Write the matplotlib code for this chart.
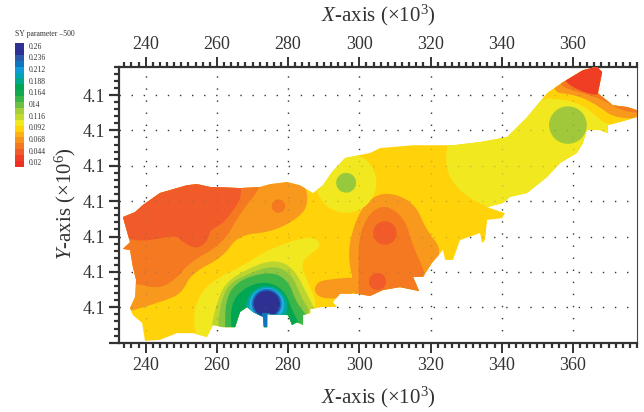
import matplotlib
matplotlib.use("Agg")
import matplotlib.pyplot as plt
from matplotlib.patches import Circle, Polygon
from matplotlib.ticker import FuncFormatter, MultipleLocator
import numpy as np

plt.rcParams["font.family"] = ["Liberation Serif", "DejaVu Serif"]
plt.rcParams["mathtext.fontset"] = "custom"
plt.rcParams["mathtext.rm"] = "Liberation Serif"
plt.rcParams["mathtext.it"] = "Liberation Serif:italic"

# study area outline, x and y in thousands of metres
outline_x = [233.6, 237.0, 239.2, 244.0, 251.6, 254.4, 258.1, 266.5, 272.1, 274.9, 279.7, 283.3, 287.0, 289.8,
             292.3, 296.0, 303.0, 305.8, 315.1, 326.3, 333.9, 341.5, 347.1, 352.7, 357.2, 362.8, 366.7, 368.2,
             367.0, 371.2, 375.2, 378.0, 378.0, 374.0, 369.8, 369.8, 367.6, 363.9, 362.8, 361.1, 356.4, 352.7,
             347.1, 342.3, 340.4, 335.9, 340.9, 340.1, 335.9, 335.3, 334.5, 333.9, 328.3, 326.3, 324.1, 323.5,
             320.4, 317.9, 315.1, 316.8, 311.4, 306.7, 303.0, 299.6, 294.6, 292.6, 293.7, 289.8, 286.2, 286.2,
             284.2, 284.2, 282.5, 281.1, 280.0, 274.1, 274.1, 273.2, 273.0, 270.1, 268.5, 266.5, 265.1, 261.7,
             258.9, 257.2, 253.3, 248.8, 244.0, 239.8, 239.0, 236.4, 235.6, 237.0, 237.3, 236.4, 235.6, 233.6,
             235.6]
outline_y = [4095.5, 4096.9, 4098.9, 4102.3, 4104.5, 4104.8, 4104.0, 4103.7, 4104.0, 4104.8, 4105.4, 4104.5,
             4102.3, 4104.5, 4108.2, 4112.2, 4113.6, 4115.0, 4115.8, 4115.8, 4116.7, 4118.1, 4123.7, 4130.5,
             4133.6, 4137.0, 4138.0, 4136.5, 4130.5, 4127.1, 4126.6, 4125.7, 4123.8, 4122.6, 4121.5, 4119.2,
             4120.1, 4120.1, 4116.4, 4113.6, 4110.8, 4106.8, 4102.3, 4101.2, 4099.5, 4098.3, 4096.6, 4095.2,
             4094.7, 4089.0, 4088.2, 4091.0, 4089.0, 4083.4, 4083.4, 4086.2, 4082.5, 4078.6, 4078.6, 4074.6,
             4075.7, 4074.9, 4073.2, 4073.8, 4073.8, 4071.5, 4070.1, 4070.1, 4069.5, 4068.4, 4067.8, 4065.0,
             4065.8, 4065.0, 4067.8, 4068.1, 4064.4, 4064.4, 4067.3, 4068.7, 4070.1, 4068.7, 4064.4, 4064.4,
             4065.0, 4061.6, 4062.7, 4062.7, 4060.8, 4060.5, 4065.6, 4067.8, 4069.8, 4072.9, 4077.7, 4081.4,
             4086.2, 4086.5, 4088.4]

# contour bands, painted from the outside in
west_light_x = [232.8, 237.0, 245.9, 250.1, 252.9, 261.8, 266.0, 275.9, 283.4, 285.7, 284.8, 279.6, 272.1, 232.8]
west_light_y = [4068.3, 4069.3, 4072.1, 4074.0, 4079.6, 4084.3, 4090.4, 4091.4, 4095.6, 4099.4, 4105.0, 4108.0,
                4108.0, 4108.0]
west_mid_x = [228.0, 237.0, 244.0, 249.2, 252.0, 261.8, 266.5, 272.6, 272.1, 228.0]
west_mid_y = [4076.8, 4076.8, 4075.1, 4078.7, 4082.4, 4088.1, 4096.6, 4104.1, 4109.0, 4109.0]
west_dark_x = [228.0, 266.5, 266.9, 266.0, 261.8, 258.1, 257.3, 254.3, 250.1, 248.7, 239.4, 234.7, 228.0]
west_dark_y = [4109.0, 4109.0, 4102.2, 4099.4, 4093.7, 4091.9, 4088.6, 4086.4, 4088.6, 4090.4, 4088.6, 4089.5,
               4089.5]
lobe_x = [291.8, 288.5, 287.1, 289.0, 295.5, 299.8, 299.8]
lobe_y = [4077.9, 4077.3, 4074.9, 4072.5, 4072.5, 4074.9, 4078.7]
south_yellow_x = [288.6, 285.2, 274.9, 267.5, 258.1, 253.9, 253.4, 257.2, 267.5, 286.2, 288.1, 285.7, 283.4, 286.6,
                  289.0]
south_yellow_y = [4089.0, 4090.0, 4086.6, 4081.9, 4077.2, 4071.5, 4063.0, 4059.0, 4062.0, 4066.0, 4071.1, 4076.8,
                  4082.4, 4085.3, 4087.0]
green1_x = [258.0, 259.6, 262.4, 269.3, 275.9, 281.4, 285.2, 288.4, 272.0]
green1_y = [4062.0, 4070.2, 4077.2, 4081.2, 4083.5, 4081.4, 4074.0, 4067.6, 4060.0]
green2_x = [260.0, 261.0, 263.3, 269.3, 275.9, 281.0, 283.8, 287.0, 272.0]
green2_y = [4062.0, 4071.1, 4076.7, 4079.7, 4081.9, 4079.5, 4072.5, 4067.6, 4060.0]
green3_x = [262.3, 262.4, 266.1, 274.9, 280.0, 282.4, 285.6, 285.6, 262.3]
green3_y = [4062.5, 4072.5, 4077.7, 4080.2, 4077.7, 4071.1, 4067.4, 4062.0, 4062.0]
green4_x = [264.2, 263.8, 268.0, 274.0, 279.1, 281.4, 285.2, 264.2]
green4_y = [4062.0, 4071.1, 4075.8, 4077.4, 4074.8, 4068.3, 4062.0, 4060.0]
tail_x = [272.6, 274.9, 274.9, 272.6]
tail_y = [4068.3, 4068.3, 4063.6, 4063.6]
east_outer_x = [298.6, 296.6, 299.0, 303.0, 308.6, 315.6, 318.8, 323.4, 320.0, 318.0, 298.6]
east_outer_y = [4075.8, 4085.3, 4095.0, 4101.0, 4102.6, 4099.4, 4091.9, 4086.2, 4079.6, 4071.0, 4071.0]
east_inner_x = [299.8, 299.8, 303.0, 307.7, 312.8, 315.1, 319.0, 319.0, 299.8]
east_inner_y = [4078.7, 4090.0, 4097.0, 4099.0, 4095.0, 4087.1, 4078.7, 4071.0, 4071.0]
arm_x = [325.0, 324.1, 325.9, 330.2, 335.8, 341.4, 362.9, 381.0, 381.0, 352.6, 341.4, 331.1]
arm_y = [4118.5, 4110.7, 4105.5, 4101.3, 4098.4, 4096.2, 4103.0, 4120.0, 4130.5, 4130.5, 4122.0, 4119.0]
tip1_x = [351.0, 359.2, 364.8, 369.5, 381.0, 381.0, 359.2]
tip1_y = [4129.0, 4128.6, 4125.8, 4121.2, 4121.0, 4141.0, 4141.0]
tip2_x = [353.0, 361.1, 366.7, 371.8, 381.0, 381.0, 359.2]
tip2_y = [4130.9, 4130.0, 4127.2, 4123.4, 4123.4, 4141.0, 4141.0]
tip3_x = [355.0, 362.9, 368.5, 374.2, 381.0, 381.0, 359.2]
tip3_y = [4132.8, 4130.5, 4128.6, 4125.3, 4124.8, 4141.0, 4141.0]
tip4_x = [356.5, 362.9, 368.6, 370.0, 359.2]
tip4_y = [4134.4, 4130.6, 4129.8, 4141.0, 4141.0]

# round blobs around single wells: x, y, radius
blob_x = [277.3, 296.3, 296.3, 307.2, 305.1, 358.6, 274.0, 274.0, 274.0, 274.0]
blob_y = [4098.6, 4105.2, 4105.2, 4091.0, 4077.3, 4121.5, 4070.2, 4070.6, 4071.0, 4071.0]
blob_r = [1.9, 8.5, 2.8, 3.3, 2.4, 5.3, 5.8, 4.9, 4.2, 3.7]

# legend
legend_values = ["0.26", "0.236", "0.212", "0.188", "0.164", "014", "0.116", "0.092", "0.068", "0.044", "0.02"]
legend_colors = ["#EE2F24", "#EF3E23", "#F15A29", "#F47920", "#F7941D", "#FBB116", "#FFD20A", "#F2E81F", "#C5D92D",
                 "#A6CE39", "#6CBE45", "#39B54A", "#12A94F", "#00A651", "#00A88C", "#00A4B4", "#0F9BD7", "#0F75BC",
                 "#2B5BA8", "#2E3192", "#2E3192"]

x_ticks = np.arange(240, 361, 20)
y_ticks = np.arange(4060, 4131, 10)


def rounded(xs, ys, passes=3):
    # corner cutting, the contours in the picture have no sharp corners
    pts = np.column_stack([xs, ys])
    for _ in range(passes):
        nxt = np.roll(pts, -1, axis=0)
        pts = np.column_stack([0.75 * pts + 0.25 * nxt, 0.25 * pts + 0.75 * nxt]).reshape(-1, 2)
    return pts[:, 0], pts[:, 1]


fig = plt.figure(figsize=(6.44, 4.12), dpi=100)
ax = fig.add_axes([119 / 644, 1 - 342.7 / 412, (637 - 119) / 644, (342.7 - 66.7) / 412])
ax.set_xlim(232.5, 378.0)
ax.set_ylim(4060, 4138)

# dotted grid under the map
ax.set_axisbelow(True)
ax.grid(True, which="major", color="#333333", lw=1.0, ls=(0, (1, 7.7)))

area = Polygon(np.column_stack([outline_x, outline_y]), closed=True, fc="#FFD20A", ec="none", zorder=2)
ax.add_patch(area)

bands = [
    (west_light_x, west_light_y, "#F8981D"),
    (west_mid_x, west_mid_y, "#F47920"),
    (west_dark_x, west_dark_y, "#F15A29"),
    (lobe_x, lobe_y, "#F8981D"),
    (east_outer_x, east_outer_y, "#F8981D"),
    (east_inner_x, east_inner_y, "#F47920"),
    (arm_x, arm_y, "#F2E81F"),
    (tip1_x, tip1_y, "#FFD20A"),
    (tip2_x, tip2_y, "#F8981D"),
    (tip3_x, tip3_y, "#F47920"),
    (tip4_x, tip4_y, "#EF3E23"),
]
for xs, ys, color in bands:
    band = ax.fill(*rounded(xs, ys), color=color, lw=0, zorder=3)[0]
    band.set_clip_path(area)

south_bands = [
    (south_yellow_x, south_yellow_y, "#F2E81F"),
    (green1_x, green1_y, "#BBD531"),
    (green2_x, green2_y, "#8DC63F"),
    (green3_x, green3_y, "#39B54A"),
    (green4_x, green4_y, "#00A651"),
]
for xs, ys, color in south_bands:
    band = ax.fill(*rounded(xs, ys), color=color, lw=0, zorder=4)[0]
    band.set_clip_path(area)

blob_colors = ["#F47920", "#F2E81F", "#97C93D", "#F15A29", "#F15A29", "#A0C83A", "#00A79D", "#27AAE1", "#0F75BC",
               "#2E3192"]
for bx, by, br, color in zip(blob_x, blob_y, blob_r, blob_colors):
    blob = Circle((bx, by), br, fc=color, ec="none", zorder=5)
    ax.add_patch(blob)
    blob.set_clip_path(area)
tail = ax.fill(tail_x, tail_y, color="#0F75BC", lw=0, zorder=5)[0]
tail.set_clip_path(area)

# the dots show through the map very faintly
for tick in x_ticks:
    line = ax.axvline(tick, color="#666666", alpha=0.3, lw=1.0, ls=(0, (1, 7.7)), zorder=6)
    line.set_clip_path(area)
for tick in y_ticks:
    line = ax.axhline(tick, color="#666666", alpha=0.3, lw=1.0, ls=(0, (1, 7.7)), zorder=6)
    line.set_clip_path(area)

# axes
ax.set_xticks(x_ticks)
ax.set_yticks(y_ticks)
ax.xaxis.set_minor_locator(MultipleLocator(2))
ax.yaxis.set_minor_locator(MultipleLocator(2))
ax.yaxis.set_major_formatter(FuncFormatter(lambda v, _: "" if v < 4065 else f"{v / 1000:.1f}"))
ax.tick_params(axis="x", which="major", top=True, labeltop=True, length=7, width=1.4, color="#333333",
               labelsize=13, labelcolor="#333333", pad=3)
ax.tick_params(axis="x", which="minor", top=True, length=3.5, width=1.6, color="#333333")
ax.tick_params(axis="y", which="major", length=7, width=1.6, color="#333333", labelsize=13,
               labelcolor="#333333", pad=3)
ax.tick_params(axis="y", which="minor", length=3.5, width=1.6, color="#333333")
for side in ["left", "top", "bottom"]:
    ax.spines[side].set_linewidth(1.6)
    ax.spines[side].set_color("#333333")
ax.spines["right"].set_linewidth(0.8)
ax.spines["right"].set_color("#444444")

fig.text(378 / 644, 1 - 15 / 412, r"$\mathit{X}$-axis ($\times$10$^{3}$)", ha="center", va="center", fontsize=15,
         color="#333333")
fig.text(378 / 644, 1 - 397 / 412, r"$\mathit{X}$-axis ($\times$10$^{3}$)", ha="center", va="center", fontsize=15,
         color="#333333")
fig.text(65 / 644, 1 - 204 / 412, r"$\mathit{Y}$-axis ($\times$10$^{6}$)", ha="center", va="center", rotation=90,
         fontsize=15, color="#333333")

# colour legend
cax = fig.add_axes([15 / 644, 1 - 167 / 412, 9.3 / 644, 124 / 412])
edges = np.linspace(0, len(legend_colors), len(legend_colors) + 1)
for i, color in enumerate(legend_colors):
    cax.fill_between([0, 1], edges[i], edges[i + 1], color=color, lw=0)
cax.set_xlim(0, 1)
cax.set_ylim(0, len(legend_colors))
cax.axis("off")
label_pos = (167 - np.array([47.3, 58.3, 70.3, 82.3, 93.3, 105.3, 117.3, 128.3, 140.3, 152.3, 163.3])) / 124 * len(
    legend_colors)
for pos, text in zip(label_pos, legend_values):
    cax.text(1.45, pos, text, ha="left", va="center", fontsize=5.5, color="#333333", clip_on=False)
fig.text(15 / 644, 1 - 34.5 / 412, "SY parameter \u2013500", ha="left", va="center", fontsize=5.6, color="#333333")

fig.savefig("out.png", dpi=100)
